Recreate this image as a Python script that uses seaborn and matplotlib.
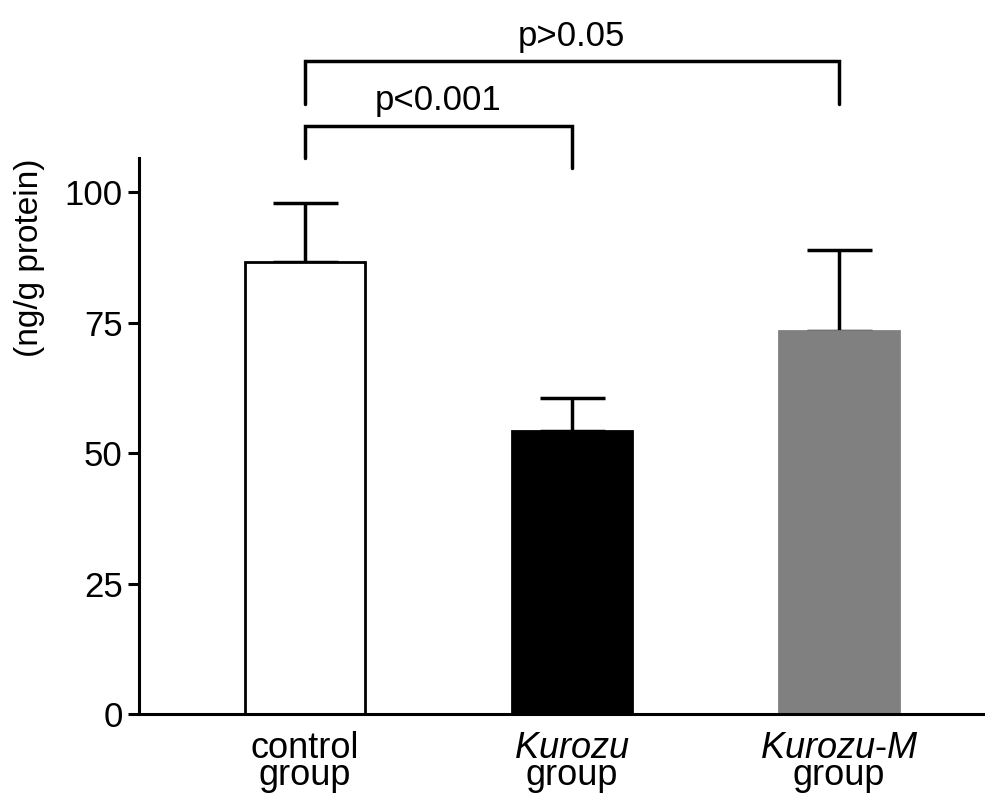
import numpy as np
import pandas as pd
import matplotlib
matplotlib.use("Agg")
import matplotlib.pyplot as plt
import seaborn as sns

# values
groups = ["control", "Kurozu", "Kurozu-M"]
means = [86.5, 54.3, 73.3]
err_upper = [11.3, 6.3, 15.5]
bar_colors = ["white", "black", "#808080"]
edge_colors = ["black", "black", "#808080"]
category_labels = ["control\ngroup", "$\\mathit{Kurozu}$\ngroup",
                   "$\\mathit{Kurozu}$-$\\mathit{M}$\ngroup"]
yticks = [0, 25, 50, 75, 100]

# significance brackets: (left group, right group, bracket y, left leg end, right leg end, text, text y)
brackets = [
    (0, 1, 112.6, 106.4, 104.5, "p<0.001", 115.6),
    (0, 2, 125.1, 116.9, 116.9, "p>0.05", 127.9),
]

sns.set_style("ticks")
plt.rcParams['font.family'] = ['Liberation Sans', 'DejaVu Sans']
plt.rcParams['mathtext.fontset'] = 'custom'
plt.rcParams['mathtext.it'] = 'Liberation Sans:italic'
plt.rcParams['mathtext.rm'] = 'Liberation Sans'
plt.rcParams['text.color'] = 'black'
plt.rcParams['axes.labelcolor'] = 'black'
plt.rcParams['ytick.color'] = 'black'
plt.rcParams['axes.edgecolor'] = 'black'

df = pd.DataFrame({"group": groups, "value": means})

fig = plt.figure(figsize=(9.85, 7.93), dpi=100)
ax = fig.add_axes([0.1414, 0.0992, 0.8586, 0.7016])

sns.barplot(data=df, x="group", y="value", hue="group", palette=bar_colors,
            width=0.45, legend=False, ax=ax, zorder=2)
for patch, ec in zip(ax.patches, edge_colors):
    patch.set_edgecolor(ec)
    patch.set_linewidth(2)

x = np.arange(len(groups))
ax.errorbar(x, means, yerr=[np.zeros(len(groups)), err_upper], fmt="none",
            ecolor="black", elinewidth=2.5, capsize=23.4, capthick=2.5, zorder=1)

ax.set_xlim(-0.62, 2.547)
ax.set_ylim(0, 106.5)
ax.set_yticks(yticks)
ax.set_yticklabels([str(t) for t in yticks], fontsize=25)
ax.set_xticks([])
ax.set_xlabel("")
ax.set_ylabel("(ng/g protein)", fontsize=24)
ax.yaxis.set_label_coords(-0.112, 0.82)

for side in ["top", "right"]:
    ax.spines[side].set_visible(False)
for side in ["left", "bottom"]:
    ax.spines[side].set_linewidth(2.2)
ax.tick_params(axis="y", direction="out", length=8, width=2.2, pad=4)

# category labels, two lines each
trans = ax.get_xaxis_transform()
for xi, lab in zip(x, category_labels):
    ax.text(xi, -0.03, lab, transform=trans, ha="center", va="top",
            fontsize=26, linespacing=0.72, clip_on=False)

# significance brackets
for a, b, yb, la, lb, txt, ty in brackets:
    ax.plot([a, a, b, b], [la, yb, yb, lb], color="black", lw=2.5,
            clip_on=False, solid_joinstyle="miter")
    ax.text((a + b) / 2, ty, txt, ha="center", va="baseline", fontsize=25,
            clip_on=False)

fig.savefig("out.png", dpi=100)
